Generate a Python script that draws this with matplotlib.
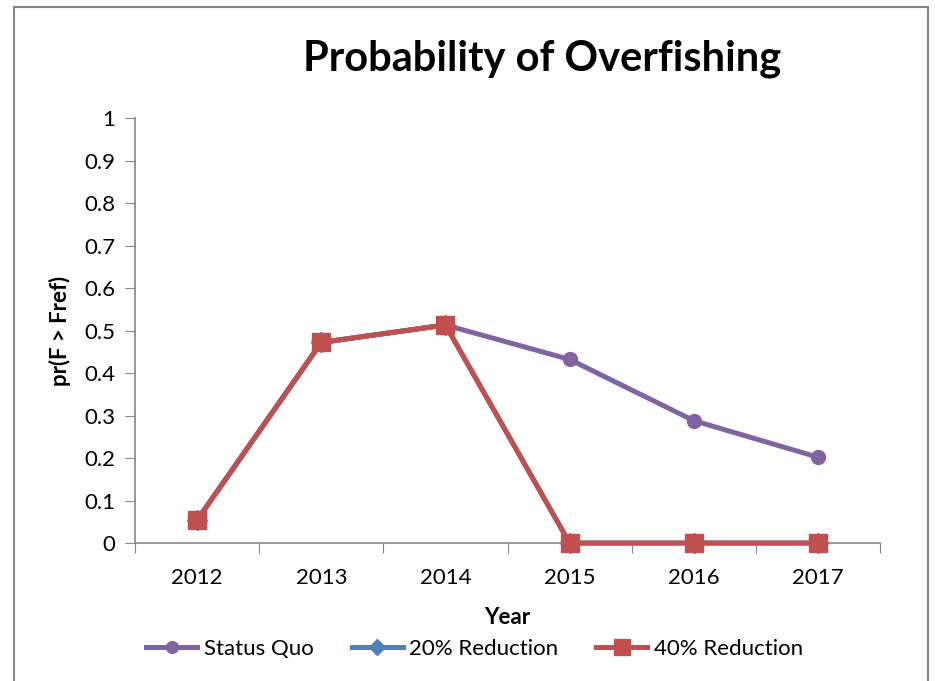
import matplotlib.pyplot as plt
import numpy as np

# ── Data ──────────────────────────────────────────────────────────────
years = ["2012", "2013", "2014", "2015", "2016", "2017"]
status_quo = [0.054, 0.472, 0.513, 0.432, 0.288, 0.202]
reduction_20 = [0.054, 0.472, 0.513, 0.0, 0.0, 0.0]
reduction_40 = [0.054, 0.472, 0.513, 0.0, 0.0, 0.0]

PURPLE = "#8064A2"
BLUE = "#4F81BD"
RED = "#C0504D"
AXIS_GREY = "#868686"

plt.rcParams["font.family"] = ["Lato", "DejaVu Sans"]

fig = plt.figure(figsize=(9.35, 6.81), dpi=100)
ax = fig.add_axes([0.1444, 0.2026, 0.7968, 0.6241])

x = np.arange(len(years))
ax.plot(x, status_quo, color=PURPLE, lw=3.6, marker="o", ms=10,
        label="Status Quo", zorder=3, clip_on=False)
ax.plot(x, reduction_20, color=BLUE, lw=3.6, marker="D", ms=10,
        label="20% Reduction", zorder=4, clip_on=False)
ax.plot(x, reduction_40, color=RED, lw=3.6, marker="s", ms=13.5,
        label="40% Reduction", zorder=5, clip_on=False)

# category axis: ticks sit between the years
ax.set_xlim(-0.5, len(years) - 0.5)
ax.set_xticks(np.arange(-0.5, len(years)), minor=False)
ax.set_xticklabels([])
ax.set_xticks(x, minor=True)
ax.set_xticklabels(years, minor=True, fontsize=16)
ax.tick_params(axis="x", which="major", length=7, color=AXIS_GREY, direction="out")
ax.tick_params(axis="x", which="minor", length=0, pad=18)

ax.set_ylim(0, 1)
ax.set_yticks(np.arange(0, 1.01, 0.1))
ax.set_yticklabels(["0"] + [f"{v:.1f}" for v in np.arange(0.1, 0.95, 0.1)] + ["1"],
                   fontsize=16)
ax.tick_params(axis="y", length=7, color=AXIS_GREY, direction="out", pad=7)

for side in ("top", "right"):
    ax.spines[side].set_visible(False)
for side in ("left", "bottom"):
    ax.spines[side].set_color(AXIS_GREY)
    ax.spines[side].set_linewidth(1.2)

ax.set_xlabel("Year", fontsize=16, fontweight="bold", labelpad=14)
ax.set_ylabel("pr(F > Fref)", fontsize=16, fontweight="bold", labelpad=10)

fig.text(0.580, 0.913, "Probability of Overfishing", ha="center", va="center",
         fontsize=30, fontweight="bold")

ax.legend(loc="center", bbox_to_anchor=(0.456, -0.249), ncol=3, frameon=False,
          fontsize=16, handlelength=2.3, handletextpad=0.3, columnspacing=1.7,
          markerscale=0.85)

# outer chart frame
fig.add_artist(plt.Rectangle((14 / 935, -0.01), (928 - 14) / 935, 1 - 7 / 681 + 0.01,
                             transform=fig.transFigure, fill=False,
                             edgecolor=AXIS_GREY, lw=1.5))

fig.savefig("out.png", dpi=100)
